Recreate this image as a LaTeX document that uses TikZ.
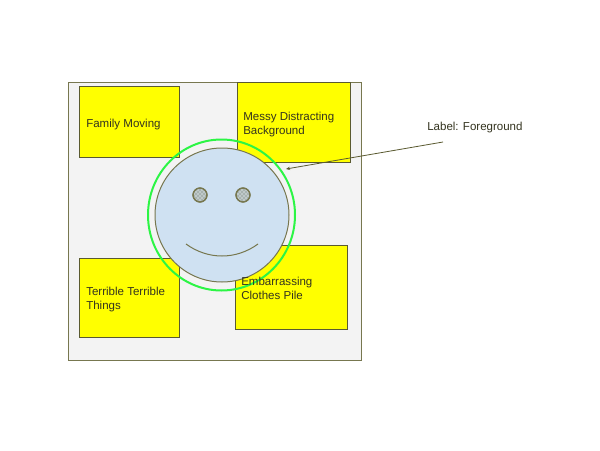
\documentclass[tikz,border=0pt]{standalone}
\usepackage{fontspec}
\setmainfont{Liberation Sans}
\usetikzlibrary{arrows.meta,patterns}
\definecolor{olive}{HTML}{77774F}
\definecolor{boxedge}{HTML}{5A5A30}
\definecolor{ink}{HTML}{33331F}
\definecolor{panel}{HTML}{F3F3F3}
\definecolor{facefill}{HTML}{CFE1F2}
\definecolor{eyefill}{HTML}{BFC9C9}
\definecolor{eyedots}{HTML}{5F6A60}
\definecolor{noteyellow}{HTML}{FFFF00}
\definecolor{ringgreen}{HTML}{2CF545}
\tikzset{
  panelbox/.style={draw=olive,fill=panel,line width=0.75pt,minimum width=219.75pt,minimum height=208.5pt,inner sep=0pt,anchor=north west},
  note/.style={draw=boxedge,fill=noteyellow,line width=0.7pt,inner sep=0pt,anchor=north west},
  caption/.style={text=ink,font=\fontsize{8.65}{10.5}\selectfont,align=left,inner sep=0pt,anchor=west},
  facebase/.style={draw=olive,fill=facefill,line width=0.75pt,circle,inner sep=0pt,minimum size=100.5pt},
  eyebase/.style={draw=olive,line width=0.9pt,circle,inner sep=0pt,minimum size=10.5pt},
  pointer/.style={draw=boxedge,line width=0.6pt,-{Stealth[length=3pt,width=2.5pt]}}
}
\begin{document}
\begin{tikzpicture}[x=0.75pt,y=-0.75pt]
\useasboundingbox (0,0) rectangle (600,450);
\fill[white] (0,0) rectangle (600,450);
\node[panelbox] (panel) at (68,82) {};
\node[note,minimum width=75pt,minimum height=53.25pt] (n1) at (79,86) {};
\node[note,minimum width=84.75pt,minimum height=60pt] (n2) at (237,82) {};
\node[note,minimum width=75pt,minimum height=59.25pt] (n3) at (79,258) {};
\node[note,minimum width=84pt,minimum height=63pt] (n4) at (235,245) {};
\node[facebase] (face) at (222,215) {};
\node[eyebase,fill=eyefill] (eyeLbase) at (200,195) {};
\node[eyebase,pattern=crosshatch dots,pattern color=eyedots] (eyeL) at (200,195) {};
\node[eyebase,fill=eyefill] (eyeRbase) at (243,195) {};
\node[eyebase,pattern=crosshatch dots,pattern color=eyedots] (eyeR) at (243,195) {};
\coordinate (smileL) at (186,244);
\coordinate (smileR) at (258,244);
\draw[olive,line width=0.75pt] (smileL) .. controls (208,260) and (236,260) .. (smileR);
\draw[draw=ringgreen,line width=1.5pt] (221.5,215) ellipse [x radius=73.5,y radius=75.5];
\node[caption] (t1) at (86,124.7) {Family Moving};
\node[caption] (t2) at (243,124.8) {Messy Distracting\\Background};
\node[caption] (t3) at (86,299.8) {Terrible Terrible\\Things};
\node[caption] (t4) at (241,288.5) {Embarrassing\\Clothes Pile};
\node[caption] (lab) at (427,127.8) {Label: Foreground};
\coordinate (labfoot) at (443,142);
\coordinate (tip) at (286,169);
\draw[pointer] (labfoot) -- (tip);
\end{tikzpicture}
\end{document}
